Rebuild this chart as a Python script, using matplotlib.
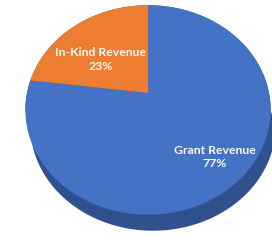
import matplotlib
matplotlib.use("Agg")
import matplotlib.pyplot as plt
from matplotlib.patches import Polygon
import numpy as np

labels = ["Grant Revenue", "In-Kind Revenue"]
values = [77, 23]
colors = ["#4472C4", "#ED7D31"]
side_color = "#2F528F"

# projection of the tilted disc (pixels)
CX, CY = 148, 93
A, B, K = 121, 102, 0.162
DEPTH = (5, 16)
label_pos = [(0.76, 0.0), (0.54, 9.0)]  # radius, angle shift in degrees


def project(X, Y, dx=0, dy=0):
    w = 1 + K * Y
    return CX + A * X / w + dx, CY - B * Y / w + dy


fig = plt.figure(figsize=(2.72, 2.4), dpi=100)
ax = fig.add_axes([0, 0, 1, 1])
ax.set_xlim(0, 272)
ax.set_ylim(240, 0)
ax.axis("off")

# side of the pie
t = np.linspace(0, 2 * np.pi, 721)
u, v = project(np.cos(t), np.sin(t))
il, ir = np.argmin(u), np.argmax(u)
pts = np.column_stack([u, v])
idx = np.arange(ir, il + 1) if ir < il else np.r_[ir:len(t), 0:il + 1]
upper = pts[idx]
us, vs = project(np.cos(t), np.sin(t), *DEPTH)
spts = np.column_stack([us, vs])
il2, ir2 = np.argmin(us), np.argmax(us)
idx2 = np.arange(il2, ir2 + 1) if il2 < ir2 else np.r_[il2:len(t), 0:ir2 + 1]
lower = spts[idx2]
ax.add_patch(Polygon(np.vstack([upper, lower]), closed=True,
                     facecolor=side_color, edgecolor="none"))

# top face wedges, clockwise from 12 o'clock
total = float(sum(values))
start = 90.0
for lab, val, col, (rl, sh) in zip(labels, values, colors, label_pos):
    span = 360.0 * val / total
    a = np.radians(np.linspace(start, start - span, 200))
    xs = np.r_[0, np.cos(a)]
    ys = np.r_[0, np.sin(a)]
    pu, pv = project(xs, ys)
    ax.add_patch(Polygon(np.column_stack([pu, pv]), closed=True,
                         facecolor=col, edgecolor="none"))
    mid = np.radians(start - span / 2 + sh)
    tx, ty = project(rl * np.cos(mid), rl * np.sin(mid))
    ax.text(tx, ty, f"{lab}\n{val}%", ha="center", va="center",
            color="#FFF8F0", fontsize=8.8, fontweight="bold", family="Lato",
            linespacing=1.3)
    start -= span

fig.savefig("out.png", dpi=100)
